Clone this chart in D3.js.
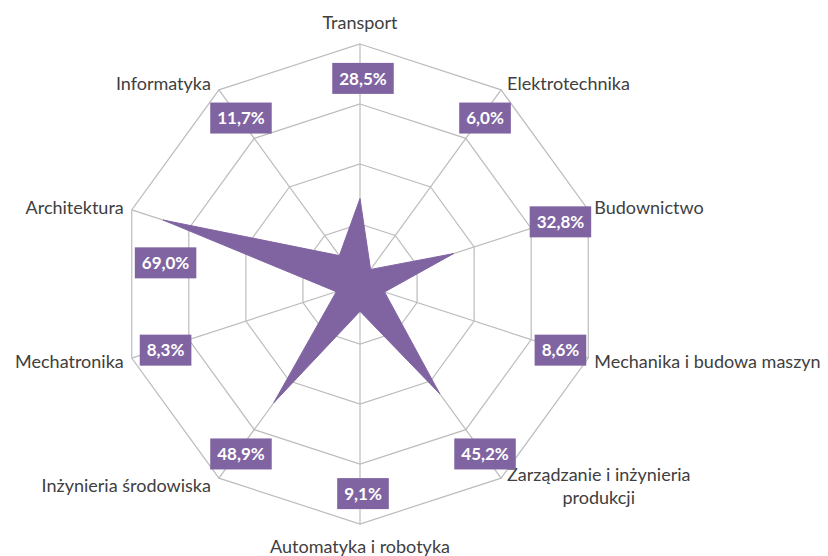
<!DOCTYPE html>
<html>
<head>
<meta charset="utf-8">
<script src="https://cdn.jsdelivr.net/npm/d3@7"></script>
<style>
  body { margin: 0; background: #fff; }
  svg text { font-family: Lato, "Open Sans", sans-serif; }
</style>
</head>
<body>
<div id="radar"></div>
<script>
// categories clockwise from the top
const categories = ["Transport", "Elektrotechnika", "Budownictwo", "Mechanika i budowa maszyn",
  "Zarządzanie i inżynieria\nprodukcji", "Automatyka i robotyka", "Inżynieria środowiska",
  "Mechatronika", "Architektura", "Informatyka"];
const values = [28.5, 6.0, 32.8, 8.6, 45.2, 9.1, 48.9, 8.3, 69.0, 11.7];
const valueLabels = ["28,5%", "6,0%", "32,8%", "8,6%", "45,2%", "9,1%", "48,9%", "8,3%", "69,0%", "11,7%"];
const ringTicks = [20, 40, 60, 80];

var width = 828, height = 556,
    cx = 360, cy = 284,
    R = 240,
    purple = "#8064a2",
    gridColor = "#bcbcbc";

var svg = d3.select("#radar").append("svg")
  .attr("width", width)
  .attr("height", height);

var r = d3.scaleLinear().domain([0, 80]).range([0, R]);
var angle = d3.scaleLinear().domain([0, categories.length]).range([0, 2 * Math.PI]);

var g = svg.append("g").attr("transform", "translate(" + cx + "," + cy + ")");

function pt(i, rad) {
  var a = angle(i);
  return [Math.sin(a) * rad, -Math.cos(a) * rad];
}

// rings
g.selectAll(".ring")
  .data(ringTicks)
  .enter().append("polygon")
  .attr("class", "ring")
  .attr("points", function(t) {
    return categories.map(function(c, i) { return pt(i, r(t)).join(","); }).join(" ");
  })
  .attr("fill", "none")
  .attr("stroke", gridColor)
  .attr("stroke-width", 1.2);

// spokes
g.selectAll(".spoke")
  .data(categories)
  .enter().append("line")
  .attr("class", "spoke")
  .attr("x1", 0).attr("y1", 0)
  .attr("x2", function(d, i) { return pt(i, R)[0]; })
  .attr("y2", function(d, i) { return pt(i, R)[1]; })
  .attr("stroke", gridColor)
  .attr("stroke-width", 1.2);

// data area
var line = d3.lineRadial()
  .angle(function(d, i) { return angle(i); })
  .radius(function(d) { return r(d); })
  .curve(d3.curveLinearClosed);

g.append("path")
  .datum(values)
  .attr("d", line)
  .attr("fill", purple)
  .attr("stroke", purple)
  .attr("stroke-width", 1);

// category labels
categories.forEach(function(c, i) {
  var a = angle(i), s = Math.sin(a), co = Math.cos(a);
  var v = pt(i, R);
  var lines = c.split("\n");
  var t = g.append("text")
    .attr("fill", "#404040")
    .attr("font-size", 18)
    .attr("text-anchor", "middle");
  lines.forEach(function(l, k) {
    t.append("tspan").attr("x", 0).attr("dy", k === 0 ? 0 : 23).text(l);
  });
  var bb = t.node().getBBox();
  var x, y;
  if (Math.abs(s) < 0.1) {
    x = v[0];
    y = v[1] - co * 22;
  } else if (s > 0) {
    x = v[0] + 6 + bb.width / 2;
    y = v[1] - co * 9;
  } else {
    x = v[0] - 8 - bb.width / 2;
    y = v[1] - co * 9;
  }
  // center block vertically on y
  var mid = bb.y + bb.height / 2;
  t.attr("transform", "translate(" + x + "," + (y - mid) + ")");
});

// value labels
var nudge = { 8: [0, 41] };
values.forEach(function(v, i) {
  var p = pt(i, R * 0.865);
  var n = nudge[i] || [0, 0];
  var lg = g.append("g").attr("transform", "translate(" + (p[0] + 3 + n[0]) + "," + (p[1] + 2 + n[1]) + ")");
  var rect = lg.append("rect").attr("fill", purple);
  var txt = lg.append("text")
    .attr("fill", "#fff")
    .attr("font-size", 17)
    .attr("font-weight", "bold")
    .attr("text-anchor", "middle")
    .attr("dy", "0.36em")
    .text(valueLabels[i]);
  var w = txt.node().getComputedTextLength() + 14;
  rect.attr("x", -w / 2).attr("y", -15.5).attr("width", w).attr("height", 31);
});
</script>
</body>
</html>
